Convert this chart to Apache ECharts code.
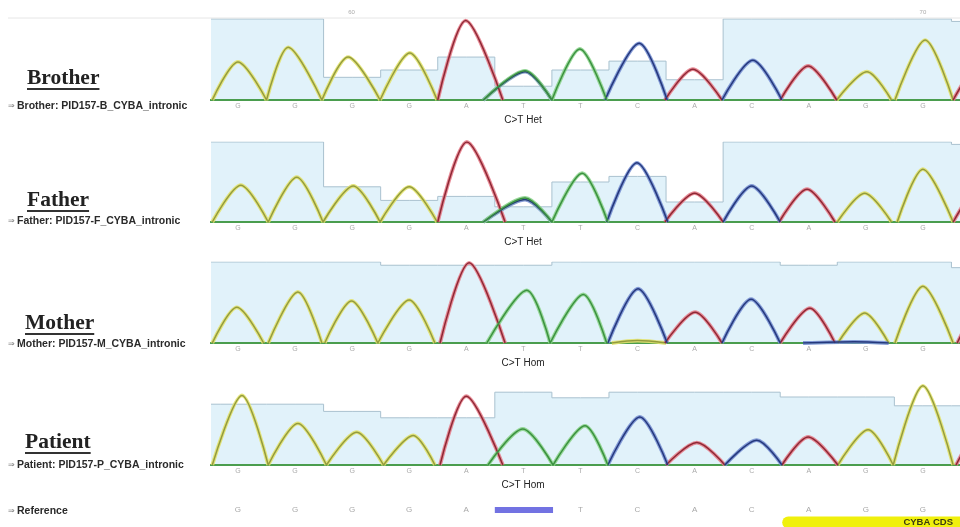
<!DOCTYPE html>
<html><head><meta charset="utf-8">
<script src="https://cdn.jsdelivr.net/npm/echarts@6/dist/echarts.min.js"></script>
<style>html,body{margin:0;padding:0;background:#fff}#c{width:960px;height:527px}</style>
</head><body><div id="c"></div>
<script>
// ---- data ----
const baseCalls = ['G','G','G','G','A','T','T','C','A','C','A','G','G'];
const refSeq    = ['G','G','G','G','A','','T','C','A','C','A','G','G'];
const rulerLabels = [{pos: 1.99, text: '60'}, {pos: 12.0, text: '70'}];

// quality bar heights (% of panel height), bases 0..13
const brotherQuality = [100,100,28,37,53,17,37,48,25,100,100,100,100,97];
const fatherQuality  = [100,100,44,27,32,19,50,57,25,100,100,100,100,97];
const motherQuality  = [100,100,100,96,96,96,100,100,100,100,96,100,100,93];
const patientQuality = [76,76,67,59,59,91,84,91,91,91,85,85,74,74];

// peaks: [base, left foot, apex, right foot, height %]
const brotherPeaks = [
  ['G',-0.45,0.00,0.50,47],['G',0.50,0.88,1.47,65],['G',1.47,1.93,2.49,53],['G',2.49,3.01,3.49,58],
  ['A',3.50,3.99,4.64,98],['C',4.30,5.03,5.50,35],['T',4.30,5.03,5.50,36],['T',5.50,5.99,6.46,63],
  ['C',6.43,7.03,7.52,70],['A',7.48,7.97,8.48,38],['C',8.48,9.02,9.53,49],['A',9.50,9.99,10.49,42],
  ['G',10.49,11.02,11.45,35],['G',11.51,12.04,12.53,74],['A',12.53,13.3,14.0,70]
];
const fatherPeaks = [
  ['G',-0.45,0.05,0.53,46],['G',0.53,1.03,1.49,56],['G',1.49,2.02,2.49,45],['G',2.49,3.00,3.49,44],
  ['A',3.50,4.01,4.68,100],['C',4.30,5.03,5.50,28],['T',4.30,5.03,5.50,30],['T',5.50,6.03,6.48,61],
  ['C',6.46,6.99,7.53,74],['A',7.48,8.00,8.50,36],['C',8.50,9.00,9.50,45],['A',9.48,9.97,10.46,41],
  ['G',10.50,10.98,11.45,36],['G',11.55,12.00,12.53,66],['A',12.53,13.3,14.0,70]
];
const motherPeaks = [
  ['G',-0.45,-0.02,0.45,44],['G',0.53,1.05,1.47,63],['G',1.52,1.99,2.45,52],['G',2.45,3.00,3.45,53],
  ['A',3.54,4.05,4.68,99],['T',4.36,5.06,5.47,65],['T',5.47,6.05,6.46,60],['C',6.48,7.01,7.52,67],
  ['G',6.55,7.00,7.50,3],['A',7.48,8.01,8.48,38],['C',8.48,8.99,9.50,54],['A',9.50,10.02,10.46,43],
  ['C',9.90,10.80,11.40,1.5],['G',10.51,10.98,11.40,37],['G',11.51,12.00,12.53,70],['A',12.60,13.3,14.0,70]
];
const patientPeaks = [
  ['G',-0.45,0.07,0.53,87],['G',0.53,1.05,1.55,52],['G',1.55,2.08,2.55,41],['G',2.55,3.07,3.45,37],
  ['A',3.54,4.00,4.64,86],['T',4.38,4.99,5.52,45],['T',5.52,6.08,6.48,49],['C',6.48,7.04,7.53,60],
  ['A',7.50,8.04,8.53,28],['C',8.53,9.09,9.53,31],['A',9.53,9.99,10.51,35],['G',10.51,11.04,11.48,44],
  ['G',11.48,12.00,12.53,99],['A',12.58,13.3,14.0,70]
];
const refHighlight = [4.5, 5.52];
const cdsRange = [9.64, 14];

const panels = [
  {name:'Brother', sample:'Brother: PID157-B_CYBA_intronic', call:'C>T Het', quality:brotherQuality, peaks:brotherPeaks},
  {name:'Father',  sample:'Father: PID157-F_CYBA_intronic',  call:'C>T Het', quality:fatherQuality,  peaks:fatherPeaks},
  {name:'Mother',  sample:'Mother: PID157-M_CYBA_intronic',  call:'C>T Hom', quality:motherQuality,  peaks:motherPeaks},
  {name:'Patient', sample:'Patient: PID157-P_CYBA_intronic', call:'C>T Hom', quality:patientQuality, peaks:patientPeaks}
];

// ---- layout / style ----
const layout = [
  {top:19,  height:81, titleX:27, titleY:79,  subY:106, callY:120},
  {top:142, height:80, titleX:27, titleY:201, subY:221, callY:242},
  {top:262, height:81, titleX:25, titleY:324, subY:344, callY:363},
  {top:385, height:80, titleX:25, titleY:443, subY:465, callY:485}
];
const traceColors = {
  G:{halo:'#e2e26e', core:'#939b3e'},
  A:{halo:'#e57f8c', core:'#8e2835'},
  C:{halo:'#7890d2', core:'#25387c'},
  T:{halo:'#8dd48d', core:'#3b9140'}
};
const XMIN = -0.455, XMAX = 12.65;
const SMOOTH = 0.3;
const titleFont = 'bold 21.5px "Liberation Serif", "Times New Roman", serif';
const measureCtx = document.createElement('canvas').getContext('2d');
function textWidth(t, font){ measureCtx.font = font; return measureCtx.measureText(t).width; }

const grids = [], xAxes = [], yAxes = [], series = [], graphics = [];
const idx = baseCalls.map((_, i) => i);

panels.forEach((p, k) => {
  const L = layout[k];
  grids.push({left:212, right:0, top:L.top, height:L.height});
  xAxes.push({gridIndex:k, type:'value', min:XMIN, max:XMAX,
    axisLine:{show:false}, axisTick:{show:false}, splitLine:{show:false},
    axisLabel:{customValues:idx, formatter:(v)=>baseCalls[Math.round(v)] || '', color:'#aaaaaa', fontSize:7, margin:3}});
  yAxes.push({gridIndex:k, type:'value', min:0, max:100, show:false});

  // quality histogram
  const q = [[-0.6, p.quality[0]]].concat(p.quality.map((v, i) => [i, v]));
  series.push({type:'line', xAxisIndex:k, yAxisIndex:k, step:'middle', symbol:'none', silent:true,
    data:q, lineStyle:{color:'#a9c1cf', width:1}, areaStyle:{color:'#e1f2fa', opacity:1}, z:1});
  // baseline
  series.push({type:'line', xAxisIndex:k, yAxisIndex:k, symbol:'none', silent:true,
    data:[[-0.6,0],[14,0]], lineStyle:{color:'#4a9d4e', width:2.2}, z:2});
  // traces
  ['G','A','C','T'].forEach(b => {
    const pk = p.peaks.filter(e => e[0] === b).sort((a, c) => a[1] - c[1]);
    if (!pk.length) return;
    const data = [];
    pk.forEach(e => { data.push([e[1], 0], [e[2], e[4]], [e[3], 0], ['-','-']); });
    series.push({type:'line', xAxisIndex:k, yAxisIndex:k, symbol:'none', smooth:SMOOTH, connectNulls:false, silent:true,
      data:data, lineStyle:{color:traceColors[b].halo, width:3.8, opacity:0.9}, z:3});
    series.push({type:'line', xAxisIndex:k, yAxisIndex:k, symbol:'none', smooth:SMOOTH, connectNulls:false, silent:true,
      data:data, lineStyle:{color:traceColors[b].core, width:1.5}, z:4});
  });

  // titles
  const tw = textWidth(p.name, titleFont);
  graphics.push({type:'text', left:L.titleX, top:L.titleY - 12, style:{text:p.name, font:titleFont, fill:'#222'}});
  graphics.push({type:'rect', shape:{x:L.titleX, y:L.titleY + 9, width:tw, height:2}, style:{fill:'#333'}});
  graphics.push({type:'text', x:8, y:L.subY, style:{text:'⇒', fontSize:8, fill:'#777', verticalAlign:'middle', fontFamily:'DejaVu Sans'}});
  graphics.push({type:'text', x:17, y:L.subY, style:{text:p.sample, fontSize:10.5, fontWeight:'bold', fill:'#2a2a2a', verticalAlign:'middle', fontFamily:'Liberation Sans'}});
  graphics.push({type:'text', x:523, y:L.callY, style:{text:p.call, fontSize:10, fill:'#222', align:'center', verticalAlign:'middle', fontFamily:'Liberation Sans'}});
});

// reference row grid
const R = 4;
grids.push({left:212, right:0, top:503, height:24});
xAxes.push({gridIndex:R, type:'value', min:XMIN, max:XMAX, position:'top',
  axisLine:{show:false}, axisTick:{show:false}, splitLine:{show:false},
  axisLabel:{inside:true, customValues:idx, formatter:(v)=>refSeq[Math.round(v)] || '', color:'#a8a8a8', fontSize:8, margin:3}});
yAxes.push({gridIndex:R, type:'value', min:0, max:24, inverse:true, show:false});
series.push({type:'line', xAxisIndex:R, yAxisIndex:R, symbol:'none', silent:true,
  data:[[refHighlight[0],7],[refHighlight[1],7]], lineStyle:{color:'#7272e2', width:6}, z:3});
series.push({type:'line', xAxisIndex:R, yAxisIndex:R, symbol:'none', silent:true, clip:true,
  data:[[cdsRange[0],19.5],[cdsRange[1],19.5]], lineStyle:{color:'#f0f00c', width:12, cap:'round'}, z:3});

// ruler on top
graphics.push({type:'line', shape:{x1:8, y1:18, x2:960, y2:18}, style:{stroke:'#e6e6e6', lineWidth:1}, z:-1});
rulerLabels.forEach(r => {
  graphics.push({type:'text', x:238 + 57.08 * r.pos, y:12, style:{text:r.text, fontSize:6, fill:'#aaa', align:'center', verticalAlign:'middle'}});
});
graphics.push({type:'text', x:8, y:511, style:{text:'⇒', fontSize:8, fill:'#777', verticalAlign:'middle', fontFamily:'DejaVu Sans'}});
graphics.push({type:'text', x:17, y:511, style:{text:'Reference', fontSize:10.5, fontWeight:'bold', fill:'#2a2a2a', verticalAlign:'middle', fontFamily:'Liberation Sans'}});
graphics.push({type:'text', x:953, y:522, z:10, style:{text:'CYBA CDS', fontSize:9.5, fontWeight:'bold', fill:'#3b3b10', align:'right', verticalAlign:'middle', fontFamily:'Liberation Sans'}});

const chart = echarts.init(document.getElementById('c'), null, {renderer:'canvas'});
chart.setOption({
  animation:false,
  backgroundColor:'#ffffff',
  textStyle:{fontFamily:'Liberation Sans'},
  grid:grids, xAxis:xAxes, yAxis:yAxes, series:series, graphic:graphics
});
</script></body></html>
